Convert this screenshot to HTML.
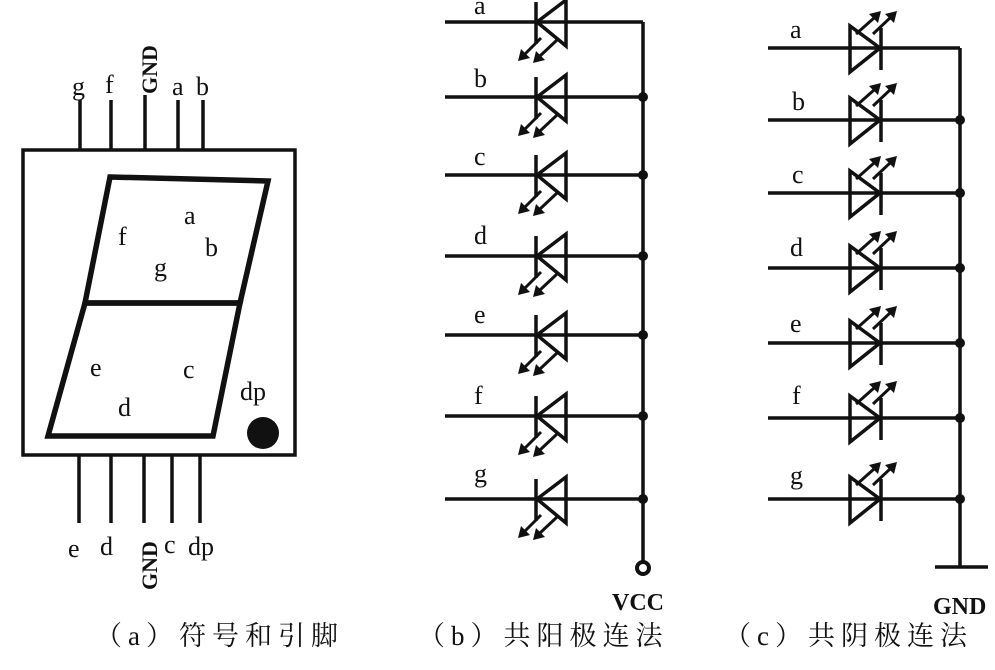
<!DOCTYPE html>
<html><head><meta charset="utf-8"><style>
html,body{margin:0;padding:0;background:#fff;}
svg{display:block;}
text{font-family:"Liberation Serif","Noto Serif CJK SC",serif;fill:#111;}
.cn{font-family:"Liberation Serif","Noto Serif CJK SC",serif;font-size:27px;letter-spacing:6px;}
</style></head><body>
<svg width="995" height="670" viewBox="0 0 995 670" xmlns="http://www.w3.org/2000/svg">
<defs>
<g id="dB">
  <line x1="536" y1="-20" x2="536" y2="22" stroke="#111" stroke-width="3.5"/>
  <polygon points="537,0 566,-22 566,24" fill="none" stroke="#111" stroke-width="3.5"/>
  <line x1="541" y1="16" x2="525" y2="32" stroke="#111" stroke-width="3"/>
  <polygon points="518,39 521,27 530,36" fill="#111"/>
  <line x1="557" y1="18" x2="540" y2="34" stroke="#111" stroke-width="3"/>
  <polygon points="533,41 536,29 545,38" fill="#111"/>
</g>
<g id="dC">
  <line x1="881" y1="-20" x2="881" y2="22" stroke="#111" stroke-width="3.5"/>
  <polygon points="880,0 850,-22 850,24" fill="none" stroke="#111" stroke-width="3.5"/>
  <line x1="856" y1="-14" x2="874" y2="-30" stroke="#111" stroke-width="3"/>
  <polygon points="881,-37 869,-34 878,-25" fill="#111"/>
  <line x1="873" y1="-14" x2="890" y2="-30" stroke="#111" stroke-width="3"/>
  <polygon points="897,-37 885,-34 894,-25" fill="#111"/>
</g>
</defs>
<g stroke="#111" fill="none">
  <rect x="23" y="150" width="272" height="305" stroke-width="3.5"/>
  <polygon points="110,177 268,181 240,303 85,303" stroke-width="5.5"/>
  <polygon points="85,303 240,303 213,436 48,436" stroke-width="5.5"/>
  <g stroke-width="3.5">
    <line x1="80" y1="100" x2="80" y2="150"/><line x1="111" y1="100" x2="111" y2="150"/>
    <line x1="145" y1="95" x2="145" y2="150"/><line x1="178" y1="100" x2="178" y2="150"/>
    <line x1="203" y1="100" x2="203" y2="150"/>
    <line x1="79" y1="455" x2="79" y2="523"/><line x1="111" y1="455" x2="111" y2="523"/>
    <line x1="144" y1="455" x2="144" y2="523"/><line x1="172" y1="455" x2="172" y2="523"/>
    <line x1="200" y1="455" x2="200" y2="523"/>
  </g>
</g>
<circle cx="263" cy="433" r="16" fill="#111"/>
<g font-size="26">
<text x="72" y="95">g</text><text x="105" y="93">f</text><text x="172" y="95">a</text><text x="196" y="95">b</text>
<text transform="translate(157,94) rotate(-90)" font-family="Liberation Sans,sans-serif" font-size="22" font-weight="bold">GND</text>
<text x="118" y="245">f</text><text x="184" y="224">a</text><text x="205" y="256">b</text><text x="154" y="276">g</text>
<text x="90" y="376">e</text><text x="183" y="378">c</text><text x="118" y="416">d</text><text x="240" y="400">dp</text>
<text x="68" y="557">e</text><text x="100" y="555">d</text><text x="164" y="553">c</text><text x="188" y="555">dp</text>
<text transform="translate(157,590) rotate(-90)" font-family="Liberation Sans,sans-serif" font-size="22" font-weight="bold">GND</text>
</g>
<!-- panel b -->
<g stroke="#111" stroke-width="3.5">
  <line x1="445" y1="22" x2="643" y2="22"/>
  <line x1="643" y1="22" x2="643" y2="562"/>
  <line x1="445" y1="97" x2="643" y2="97"/>
  <line x1="445" y1="175" x2="643" y2="175"/>
  <line x1="445" y1="256" x2="643" y2="256"/>
  <line x1="445" y1="335" x2="643" y2="335"/>
  <line x1="445" y1="416" x2="643" y2="416"/>
  <line x1="445" y1="499" x2="643" y2="499"/>
</g>
<circle cx="643" cy="568" r="6" fill="#fff" stroke="#111" stroke-width="4"/>
<g fill="#111"><circle cx="643" cy="97" r="5"/><circle cx="643" cy="175" r="5"/><circle cx="643" cy="256" r="5"/><circle cx="643" cy="335" r="5"/><circle cx="643" cy="416" r="5"/><circle cx="643" cy="499" r="5"/></g>
<use href="#dB" y="22"/><use href="#dB" y="97"/><use href="#dB" y="175"/><use href="#dB" y="256"/><use href="#dB" y="335"/><use href="#dB" y="416"/><use href="#dB" y="499"/>
<g font-size="26">
<text x="474" y="14">a</text><text x="474" y="87">b</text><text x="474" y="165">c</text><text x="474" y="244">d</text><text x="474" y="323">e</text><text x="474" y="404">f</text><text x="474" y="482">g</text>
<text x="612" y="610" font-size="24" font-weight="bold">VCC</text>
</g>
<!-- panel c -->
<g stroke="#111" stroke-width="3.5">
  <line x1="768" y1="48" x2="960" y2="48"/>
  <line x1="960" y1="48" x2="960" y2="567"/>
  <line x1="935" y1="567" x2="988" y2="567"/>
  <line x1="768" y1="120" x2="960" y2="120"/>
  <line x1="768" y1="193" x2="960" y2="193"/>
  <line x1="768" y1="268" x2="960" y2="268"/>
  <line x1="768" y1="343" x2="960" y2="343"/>
  <line x1="768" y1="418" x2="960" y2="418"/>
  <line x1="768" y1="499" x2="960" y2="499"/>
</g>
<g fill="#111"><circle cx="960" cy="120" r="5"/><circle cx="960" cy="193" r="5"/><circle cx="960" cy="268" r="5"/><circle cx="960" cy="343" r="5"/><circle cx="960" cy="418" r="5"/><circle cx="960" cy="499" r="5"/></g>
<use href="#dC" y="48"/><use href="#dC" y="120"/><use href="#dC" y="193"/><use href="#dC" y="268"/><use href="#dC" y="343"/><use href="#dC" y="418"/><use href="#dC" y="499"/>
<g font-size="26">
<text x="790" y="38">a</text><text x="792" y="110">b</text><text x="792" y="183">c</text><text x="790" y="256">d</text><text x="790" y="332">e</text><text x="792" y="404">f</text><text x="790" y="484">g</text>
<text x="933" y="614" font-size="24" font-weight="bold">GND</text>
</g>
<text class="cn" x="95" y="645">（a）符号和引脚</text>
<text class="cn" x="418" y="645">（b）共阳极连法</text>
<text class="cn" x="724" y="645">（c）共阴极连法</text>
</svg>
</body></html>
